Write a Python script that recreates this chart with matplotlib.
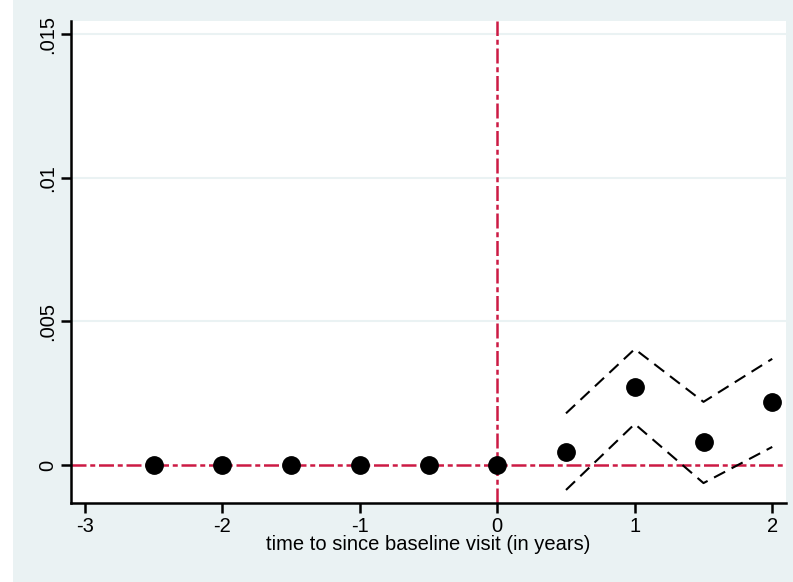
import matplotlib.pyplot as plt
from matplotlib.patches import Rectangle

# event-time coefficients
times = [-2.5, -2, -1.5, -1, -0.5, 0, 0.5, 1, 1.5, 2]
coef = [0, 0, 0, 0, 0, 0, 0.00045, 0.00272, 0.0008, 0.0022]
ci_times = [0.5, 1, 1.5, 2]
ci_upper = [0.0018, 0.00404, 0.0022, 0.0037]
ci_lower = [-0.00087, 0.00143, -0.00063, 0.00063]

x_ticks = [-3, -2, -1, 0, 1, 2]
y_ticks = [0, 0.005, 0.01, 0.015]
y_labels = ["0", ".005", ".01", ".015"]

bg = "#eaf2f3"
red = "#cc1a44"

plt.rcParams["font.family"] = ["Liberation Sans", "DejaVu Sans"]

fig = plt.figure(figsize=(7.93, 5.82), dpi=100)
fig.patch.set_facecolor("white")
fig.patches.append(Rectangle((13 / 793, 0), 1 - 13 / 793, 1,
                             transform=fig.transFigure, facecolor=bg,
                             edgecolor="none", zorder=-10))

ax = fig.add_axes([71 / 793, 79 / 582, 715 / 793, 482 / 582])
ax.set_facecolor("white")

ax.set_xlim(-3.10, 2.10)
ax.set_ylim(-0.001324, 0.01547)

for yv in y_ticks[1:]:
    ax.axhline(yv, color=bg, lw=1.5, zorder=0)

ax.axhline(0, color=red, lw=1.8, dashes=(6, 1.5, 2, 1.5), zorder=1)
ax.axvline(0, color=red, lw=1.8, dashes=(6, 1.5, 2, 1.5), zorder=1)

ax.plot(ci_times, ci_upper, color="black", lw=1.5, dashes=(6, 3.5), zorder=2)
ax.plot(ci_times, ci_lower, color="black", lw=1.5, dashes=(6, 3.5), zorder=2)
ax.plot(times, coef, "o", color="black", ms=12.5, zorder=3)

ax.spines["top"].set_visible(False)
ax.spines["right"].set_visible(False)
ax.spines["left"].set_linewidth(1.8)
ax.spines["bottom"].set_linewidth(1.8)

ax.set_xticks(x_ticks)
ax.set_xticklabels([str(t) for t in x_ticks])
ax.set_yticks(y_ticks)
ax.set_yticklabels(y_labels, rotation=90, va="center")
ax.tick_params(axis="both", length=7, width=1.8, labelsize=14.5, pad=3)

ax.set_xlabel("time to since baseline visit (in years)", fontsize=14.5, labelpad=-1)

fig.savefig("out.png", dpi=100, facecolor=fig.get_facecolor())
